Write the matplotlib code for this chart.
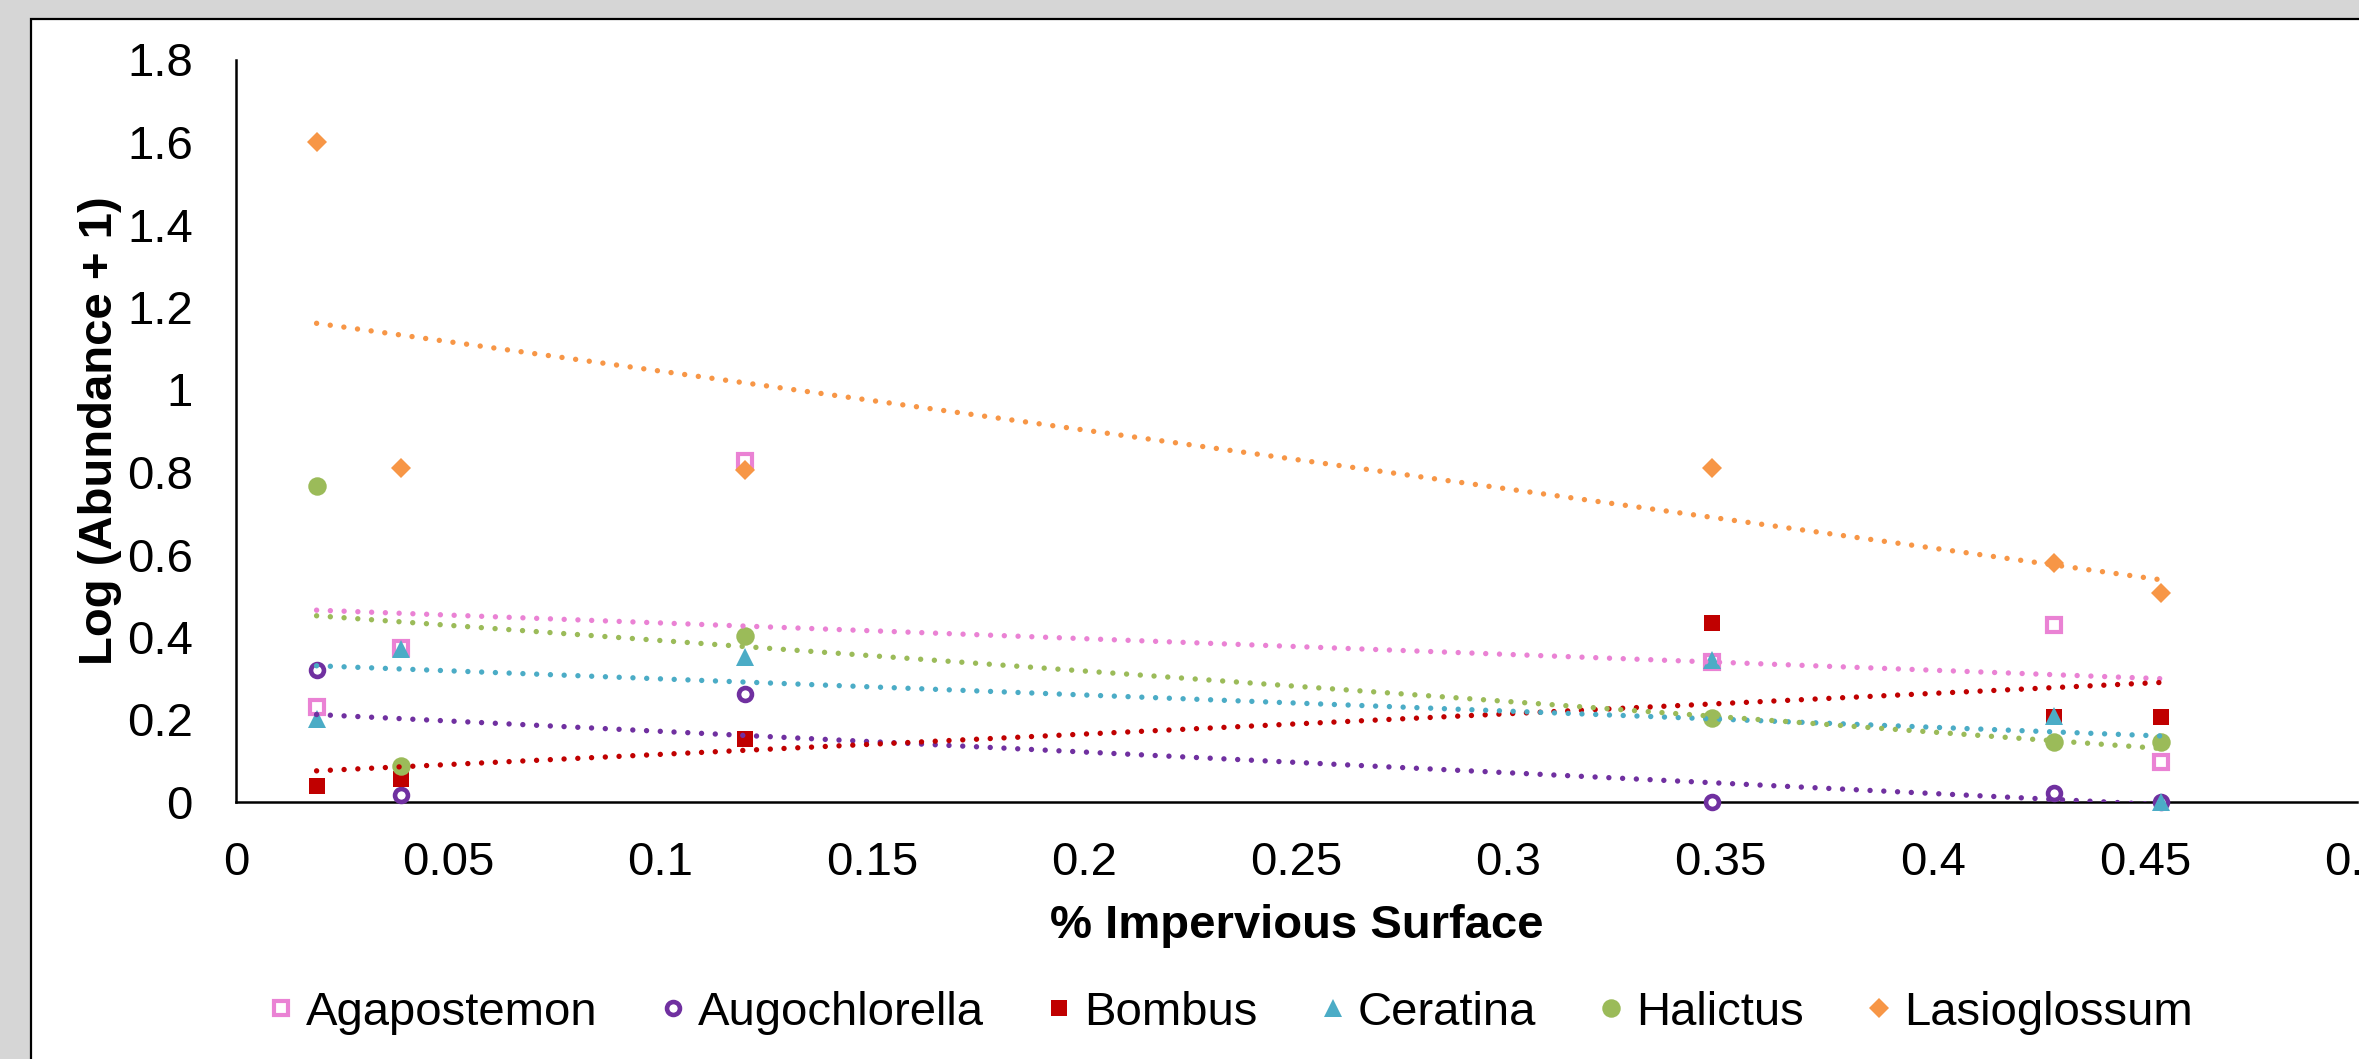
import numpy as np
import matplotlib
matplotlib.use("Agg")
import matplotlib.pyplot as plt
from matplotlib.patches import Rectangle

# ---- data ----
impervious = [0.019, 0.039, 0.12, 0.348, 0.4285, 0.4537]
agapostemon = [0.231, 0.373, 0.827, 0.340, 0.429, 0.096]
augochlorella = [0.320, 0.018, 0.263, 0.0, 0.021, 0.0]
bombus = [0.039, 0.056, 0.153, 0.433, 0.205, 0.205]
ceratina = [0.201, 0.370, 0.352, 0.344, 0.208, 0.0]
halictus = [0.766, 0.088, 0.402, 0.203, 0.146, 0.146]
lasioglossum = [1.601, 0.809, 0.805, 0.810, 0.580, 0.507]

series_names = ["Agapostemon", "Augochlorella", "Bombus", "Ceratina", "Halictus", "Lasioglossum"]
x_ticks = [0, 0.05, 0.1, 0.15, 0.2, 0.25, 0.3, 0.35, 0.4, 0.45, 0.5]
x_ticklabels = ["0", "0.05", "0.1", "0.15", "0.2", "0.25", "0.3", "0.35", "0.4", "0.45", "0.5"]
y_ticks = [0, 0.2, 0.4, 0.6, 0.8, 1.0, 1.2, 1.4, 1.6, 1.8]
y_ticklabels = ["0", "0.2", "0.4", "0.6", "0.8", "1", "1.2", "1.4", "1.6", "1.8"]
x_title = "% Impervious Surface"
y_title = "Log (Abundance + 1)"

# ---- styles ----
styles = {
    "Agapostemon":   dict(color="#EA82D4", marker="s", ms=9.6, mfc="white", mew=3.0),
    "Augochlorella": dict(color="#7030A0", marker="o", ms=9.3, mfc="white", mew=3.3),
    "Bombus":        dict(color="#C00000", marker="s", ms=11.5, mfc=None, mew=0),
    "Ceratina":      dict(color="#4BACC6", marker="^", ms=13.0, mfc=None, mew=0),
    "Halictus":      dict(color="#9BBB59", marker="o", ms=13.3, mfc=None, mew=0),
    "Lasioglossum":  dict(color="#F79646", marker="D", ms=10.3, mfc=None, mew=0),
}
values = [agapostemon, augochlorella, bombus, ceratina, halictus, lasioglossum]

W, H = 2359, 1059
plt.rcParams["font.family"] = ["Liberation Sans", "DejaVu Sans"]
fig = plt.figure(figsize=(W / 100, H / 100), dpi=100)
fig.patch.set_facecolor("#D6D6D6")

# white chart panel with black border (extends beyond right/bottom edges)
panel = Rectangle((31 / W, -0.2), 2.0, (1040 / H) + 0.2, transform=fig.transFigure,
                  facecolor="white", edgecolor="black", linewidth=1.6, zorder=-5)
fig.patches.append(panel)

left, right = 236 / W, 2357 / W
bottom, top = (H - 802) / H, (H - 59.5) / H
ax = fig.add_axes([left, bottom, right - left, top - bottom])
ax.set_zorder(1)
ax.set_facecolor("none")

x = np.array(impervious)
handles = []
for name, yv in zip(series_names, values):
    st = styles[name]
    mfc = st["mfc"] if st["mfc"] is not None else st["color"]
    h, = ax.plot(x, yv, linestyle="none", marker=st["marker"], markersize=st["ms"],
                 markerfacecolor=mfc, markeredgecolor=st["color"],
                 markeredgewidth=st["mew"], clip_on=False, zorder=3, label=name)
    handles.append(h)

# linear trendlines (dotted), drawn on top of markers
for name, yv in zip(series_names, values):
    st = styles[name]
    k, b = np.polyfit(x, np.array(yv), 1)
    xs = np.array([x.min(), x.max()])
    ax.plot(xs, k * xs + b, color=st["color"], linewidth=3.9,
            linestyle=(0, (0.001, 2.54)), dash_capstyle="round",
            solid_capstyle="round", zorder=4)

ax.set_xlim(0, 0.5)
ax.set_ylim(0, 1.8)
ax.set_xticks(x_ticks)
ax.set_xticklabels(x_ticklabels)
ax.set_yticks(y_ticks)
ax.set_yticklabels(y_ticklabels)
ax.tick_params(axis="x", length=0, pad=28, labelsize=34)
ax.tick_params(axis="y", length=0, pad=31, labelsize=34)
for s in ["top", "right"]:
    ax.spines[s].set_visible(False)
for s in ["left", "bottom"]:
    ax.spines[s].set_linewidth(1.8)
    ax.spines[s].set_color("black")
    ax.spines[s].set_zorder(2)

fig.text(1296.6 / W, 1 - 938 / H, x_title, ha="center", va="baseline",
         fontsize=34, fontweight="bold")
fig.text(100 / W, 1 - 431 / H, y_title, ha="center", va="center", rotation=90,
         fontsize=34, fontweight="bold")

fig.legend(handles=handles, labels=series_names, loc="center",
           bbox_to_anchor=(1230 / W, 1 - 1013 / H), ncol=6, frameon=False,
           fontsize=34, handlelength=0.6, handletextpad=0.23, columnspacing=1.29,
           borderpad=0, borderaxespad=0, markerscale=1.0, numpoints=1)

fig.savefig("out.png", dpi=100, facecolor=fig.get_facecolor())
